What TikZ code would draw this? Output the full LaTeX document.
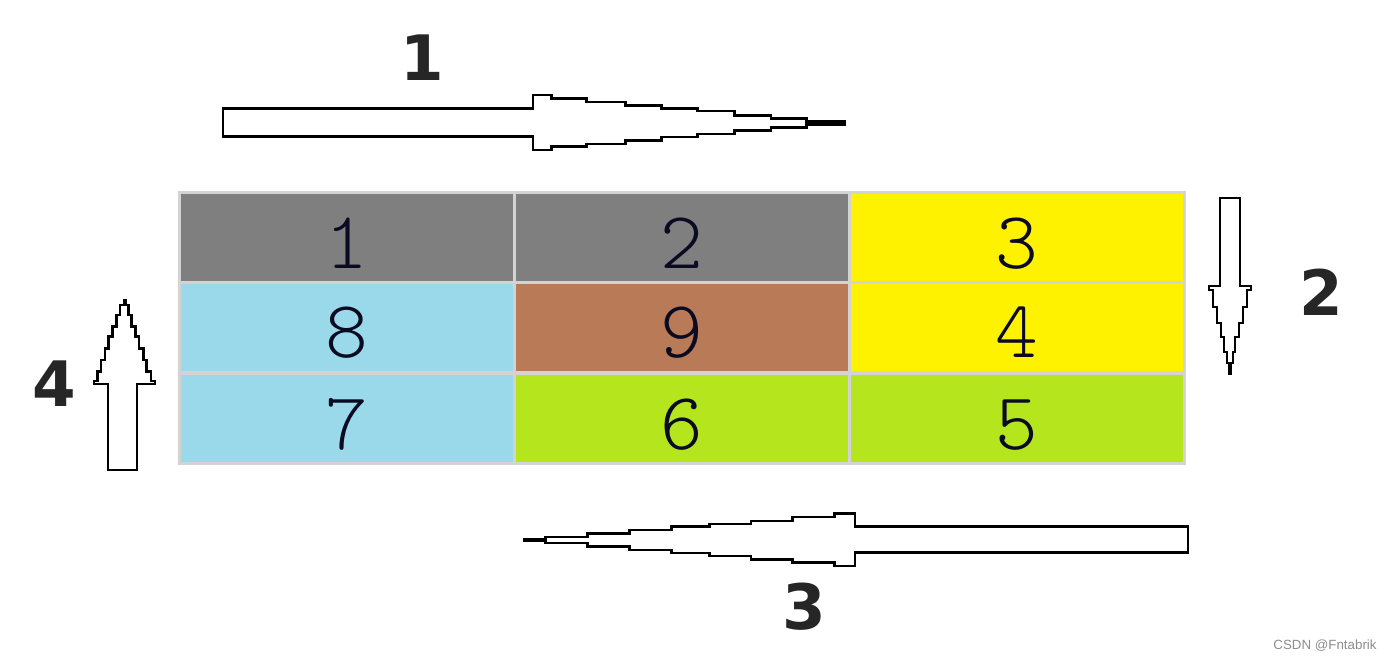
\documentclass[tikz,border=0pt]{standalone}
\usepackage{fontspec}
\newfontfamily\cellfont{lmmonolt10-regular.otf}
\newfontfamily\labfont{DejaVu Sans}
\newfontfamily\wmfont{Liberation Sans}
\definecolor{cgrey}{HTML}{7F7F7F}
\definecolor{cyellow}{HTML}{FFF200}
\definecolor{cblue}{HTML}{99D9EA}
\definecolor{cbrown}{HTML}{B97A57}
\definecolor{clime}{HTML}{B5E61D}
\definecolor{cborder}{HTML}{D3D3D3}
\definecolor{labcol}{HTML}{262626}
\definecolor{digcol}{HTML}{0A0A22}
\begin{document}
\begin{tikzpicture}[x=0.75pt,y=-0.75pt,
  cell/.style={draw=cborder,line width=2.25pt,minimum width=251.25pt,minimum height=67.5pt,inner sep=0pt,outer sep=0pt},
  digit/.style={anchor=base,inner sep=0pt,font=\cellfont\fontsize{61}{61}\selectfont,text=digcol},
  steplabel/.style={inner sep=0pt,font=\labfont\bfseries\fontsize{47}{47}\selectfont,text=labcol},
  bigarrow/.style={draw=black,fill=white,line width=2.1pt,line join=miter}]
\useasboundingbox (0,0) rectangle (1389,660);
% cells
\node[cell,fill=cgrey]   (c1) at (347,237.5) {};
\node[cell,fill=cgrey]   (c2) at (682,237.5) {};
\node[cell,fill=cyellow] (c3) at (1017,237.5) {};
\node[cell,fill=cblue]   (c8) at (347,327.5) {};
\node[cell,fill=cbrown]  (c9) at (682,327.5) {};
\node[cell,fill=cyellow] (c4) at (1017,327.5) {};
\node[cell,fill=cblue]   (c7) at (347,418) {};
\node[cell,fill=clime]   (c6) at (682,418) {};
\node[cell,fill=clime]   (c5) at (1017,418) {};
% digits
\node[digit] (d1) at (347,268) {1};
\node[digit] (d2) at (682,268) {2};
\node[digit] (d3) at (1017,268) {3};
\node[digit] (d8) at (347,357) {8};
\node[digit] (d9) at (682,357) {9};
\node[digit] (d4) at (1017,357) {4};
\node[digit] (d7) at (347,449) {7};
\node[digit] (d6) at (682,449) {6};
\node[digit] (d5) at (1017,449) {5};
% top arrow (right)
\draw[bigarrow] (223,108.3) -- (533,108.3) -- (533,95) -- (551.7,95) -- (551.7,98.7) -- (586.3,98.7) -- (586.3,102) -- (625.8,102) -- (625.8,105.3) -- (661.1,105.3) -- (661.1,108.3) -- (697.3,108.3) -- (697.3,111) -- (734.8,111) -- (734.8,115.7) -- (771,115.7) -- (771,118.7) -- (806.3,118.7) -- (806.3,121.5) -- (845,121.5) -- (845,124.5) -- (806.3,124.5) -- (806.3,127.3) -- (771,127.3) -- (771,130.7) -- (734.8,130.7) -- (734.8,134) -- (697.3,134) -- (697.3,137) -- (661.1,137) -- (661.1,140.7) -- (625.8,140.7) -- (625.8,144) -- (586.3,144) -- (586.3,146.7) -- (551.7,146.7) -- (551.7,150) -- (533,150) -- (533,136.7) -- (223,136.7) -- cycle;
% right arrow (down)
\draw[bigarrow] (1220,198) -- (1240,198) -- (1240,286) -- (1251,286) -- (1251,290) -- (1247,290) -- (1247,307) -- (1243,307) -- (1243,323) -- (1239,323) -- (1239,337) -- (1235,337) -- (1235,352) -- (1233,352) -- (1233,363) -- (1230.5,363) -- (1230.5,374) -- (1229.5,374) -- (1229.5,363) -- (1227,363) -- (1227,352) -- (1224,352) -- (1224,337) -- (1221,337) -- (1221,323) -- (1217,323) -- (1217,307) -- (1213,307) -- (1213,290) -- (1209,290) -- (1209,286) -- (1220,286) -- cycle;
% bottom arrow (left)
\draw[bigarrow] (1188,526.7) -- (855,526.7) -- (855,513.7) -- (834.1,513.7) -- (834.1,517) -- (792.8,517) -- (792.8,521) -- (751,521) -- (751,524) -- (709.3,524) -- (709.3,526.7) -- (671.5,526.7) -- (671.5,530) -- (629.3,530) -- (629.3,533.3) -- (587.1,533.3) -- (587.1,537) -- (545.3,537) -- (545.3,539.6) -- (524,539.6) -- (524,540.4) -- (545.3,540.4) -- (545.3,543) -- (587.1,543) -- (587.1,546.7) -- (629.3,546.7) -- (629.3,550) -- (671.5,550) -- (671.5,553) -- (709.3,553) -- (709.3,556) -- (751,556) -- (751,559.3) -- (792.8,559.3) -- (792.8,562.3) -- (834.1,562.3) -- (834.1,566) -- (855,566) -- (855,552.7) -- (1188,552.7) -- cycle;
% left arrow (up)
\draw[bigarrow] (108,470) -- (108,384) -- (94,384) -- (94,381) -- (97.3,381) -- (97.3,371.7) -- (101,371.7) -- (101,360) -- (105,360) -- (105,348.3) -- (108.7,348.3) -- (108.7,336.7) -- (112.3,336.7) -- (112.3,326.7) -- (116.3,326.7) -- (116.3,315) -- (120,315) -- (120,305) -- (124,305) -- (124,300.7) -- (126,300.7) -- (126,305) -- (128.3,305) -- (128.3,315) -- (131.7,315) -- (131.7,326.7) -- (135.3,326.7) -- (135.3,336.7) -- (139,336.7) -- (139,348.3) -- (143.3,348.3) -- (143.3,360) -- (146.7,360) -- (146.7,371.7) -- (151,371.7) -- (151,381) -- (155,381) -- (155,384) -- (137,384) -- (137,470) -- cycle;
% step labels
\node[steplabel] (l1) at (422,58) {1};
\node[steplabel] (l2) at (1321,292) {2};
\node[steplabel] (l3) at (804,607) {3};
\node[steplabel] (l4) at (54,384) {4};
% watermark
\node[inner sep=0pt,font=\wmfont\fontsize{10}{10}\selectfont,text=black!45] (wm) at (1325,646) {CSDN @Fntabrik};
\end{tikzpicture}
\end{document}
